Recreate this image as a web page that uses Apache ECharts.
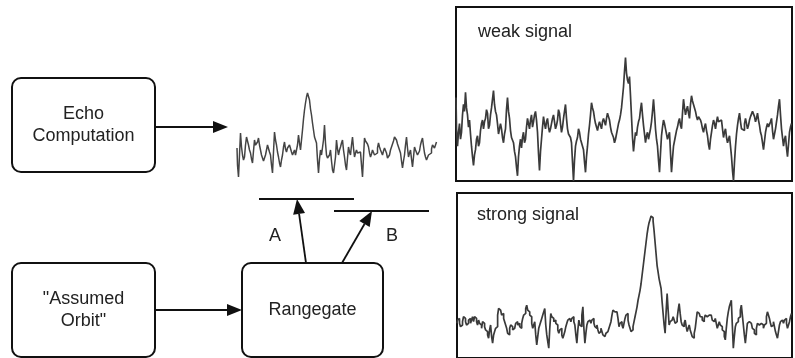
<!DOCTYPE html>
<html><head><meta charset="utf-8">
<script src="https://cdn.jsdelivr.net/npm/echarts@6/dist/echarts.min.js"></script>
<style>html,body{margin:0;padding:0;background:#fff}#c{width:795px;height:358px}</style>
</head><body><div id="c"></div>
<script>
// Echo waveform sketched next to the Echo Computation box
const echoValues = [
37,20, 8,30, 52,38, 30,25, 28,40, 48,44, 40,35, 32,26, 22,34, 45,40, 38,43, 47,40, 35,30, 28,24, 22,30, 35,40, 38,33, 30,20, 12,33, 53,45,
40,33, 28,22, 18,25, 30,38, 43,36, 33,37, 36,40, 38,33, 30,32, 35,30, 28,40, 50,42, 35,45, 55,66, 75,82, 88,92, 93,85, 76,70, 62,55, 48,45,
42,25, 12,26, 35,30, 28,45, 60,42, 30,27, 25,30, 35,24, 15,12, 10,28, 45,36, 30,35, 38,42, 45,35, 28,20, 15,27, 38,33, 30,40, 48,37, 28,32,
35,32, 30,33, 35,20, 8,28, 47,44, 45,41, 38,32, 28,31, 35,33, 30,30, 32,37, 42,38, 35,33, 30,34, 37,35, 32,27, 25,30, 35,38, 40,44, 48,46,
45,41, 38,35, 32,24, 17,24, 30,40, 48,37, 28,32, 35,26, 18,28, 38,35, 33,30, 28,34, 40,44, 47,39, 32,28, 25,27, 30,31, 32,36, 40,38, 37,40,
43];
// weak signal panel
const weakValues = [
48,30, 20,28, 33,24, 28,38, 44,40, 51,42, 38,31, 35,27, 20,14, 9,15, 18,24, 26,20, 22,29, 33,35, 30,34, 36,41, 39,30, 32,38, 42,47, 52,44,
40,38, 33,27, 28,33, 30,25, 22,27, 30,41, 48,40, 36,29, 25,26, 22,17, 14,8, 3,14, 20,24, 19,25, 28,22, 24,31, 36,33, 30,35, 38,31, 34,38,
40,35, 28,16, 6,17, 24,31, 37,33, 30,34, 36,31, 28,30, 33,36, 38,34, 30,32, 35,41, 39,33, 28,31, 36,40, 44,36, 30,27, 26,25, 22,11, 0,12,
20,23, 25,30, 28,24, 22,20, 18,11, 5,14, 20,27, 32,38, 45,42, 40,36, 33,31, 29,32, 34,33, 30,34, 36,34, 32,36, 39,37, 35,31, 28,27, 25,22,
24,27, 30,33, 35,38, 42,48, 54,63, 71,62, 58,56, 60,49, 37,25, 17,23, 28,26, 31,34, 36,41, 45,38, 32,27, 22,26, 28,24, 25,30, 34,40, 47,39,
30,24, 20,12, 5,16, 26,31, 35,33, 30,27, 24,25, 28,16, 5,13, 20,23, 26,29, 31,34, 36,32, 30,39, 47,42, 38,41, 43,39, 36,44, 49,46, 44,42,
40,37, 35,37, 38,35, 33,30, 28,31, 33,29, 26,21, 18,24, 28,32, 35,33, 30,34, 37,34, 33,35, 36,30, 25,28, 30,25, 22,24, 26,20, 14,6, 0,11,
20,27, 32,36, 39,34, 30,30, 29,33, 36,33, 30,32, 35,37, 38,40, 41,37, 34,36, 39,35, 32,28, 26,22, 18,23, 28,31, 33,31, 30,34, 36,29, 24,27,
30,34, 38,43, 47,38, 30,25, 20,24, 26,19, 14,21, 28,31, 33];
// strong signal panel
const strongValues = [
21,23, 24,21, 19,20, 22,25, 24,22, 20,21, 23,24, 21,23, 25,22, 25,24, 22,20, 23,21, 20,18, 22,21, 19,17, 16,14, 12,17, 20,13, 9,14, 16,18,
19,26, 30,29, 28,26, 27,24, 22,20, 18,15, 14,18, 20,19, 17,18, 19,21, 22,20, 21,19, 18,21, 24,26, 27,30, 32,29, 28,26, 25,21, 18,20, 22,14,
8,13, 18,20, 22,24, 26,28, 30,20, 14,10, 6,18, 27,25, 24,22, 23,21, 20,17, 15,17, 18,14, 12,14, 16,19, 21,23, 24,23, 22,24, 25,22, 20,14,
9,17, 23,20, 19,26, 31,18, 9,15, 20,22, 23,22, 21,23, 24,21, 19,18, 20,17, 15,16, 18,16, 14,13, 12,15, 16,17, 18,20, 22,26, 29,28, 27,28,
29,24, 19,21, 22,20, 18,21, 24,26, 27,23, 20,18, 16,17, 19,22, 25,28, 31,35, 38,41, 45,50, 55,60, 65,70, 75,79, 82,84, 86,85, 83,77, 70,63,
56,52, 48,45, 42,34, 27,20, 15,28, 39,29, 20,22, 23,24, 25,23, 21,22, 24,29, 33,27, 22,20, 19,21, 23,19, 16,18, 20,17, 15,13, 12,15, 18,23,
28,27, 26,25, 25,23, 22,24, 26,25, 24,26, 27,26, 25,23, 22,23, 24,21, 18,20, 22,20, 19,17, 16,13, 11,18, 24,28, 31,33, 35,20, 6,13, 19,21,
22,24, 25,29, 32,26, 20,14, 9,15, 21,22, 23,21, 20,18, 17,15, 14,18, 21,20, 19,21, 22,20, 18,20, 21,25, 28,26, 24,21, 19,20, 22,19, 16,14,
12,16, 20,22, 23,22, 21,23, 24,21, 18,20, 22,25, 27];
const panelTitles = ['weak signal', 'strong signal'];
const boxLabels = ['Echo\nComputation', '"Assumed\nOrbit"', 'Rangegate'];
const gateLabels = ['A', 'B'];

const idx = a => a.map((_, i) => i);
const FONT = 'Liberation Sans, Arial, sans-serif';
const INK = '#111';

function box(x, y, w, h, label) {
  return [
    {type:'rect', shape:{x, y, width:w, height:h, r:9}, style:{fill:'#fff', stroke:INK, lineWidth:2}, z:10},
    {type:'text', x:x + w/2, y:y + h/2, z:11,
     style:{text:label, fill:'#222', font:'18px ' + FONT, align:'center', verticalAlign:'middle', lineHeight:22}}
  ];
}
function arrow(x1, y1, x2, y2) {
  const dx = x2 - x1, dy = y2 - y1, L = Math.hypot(dx, dy);
  const ux = dx / L, uy = dy / L, hl = 15, hw = 6;
  const bx = x2 - ux * hl, by = y2 - uy * hl;
  return [
    {type:'line', shape:{x1, y1, x2:bx, y2:by}, style:{stroke:INK, lineWidth:1.8}, z:10},
    {type:'polygon', shape:{points:[[x2, y2], [bx - uy * hw, by + ux * hw], [bx + uy * hw, by - ux * hw]]}, style:{fill:INK}, z:10}
  ];
}
function hline(x1, x2, y) {
  return {type:'line', shape:{x1, y1:y, x2, y2:y}, style:{stroke:INK, lineWidth:2}, z:10};
}
function label(x, y, t, align) {
  return {type:'text', x, y, z:11, style:{text:t, fill:'#222', font:'18px ' + FONT, align:align || 'center', verticalAlign:'middle'}};
}

const graphic = [].concat(
  box(12, 78, 143, 94, boxLabels[0]),
  box(12, 263, 143, 94, boxLabels[1]),
  box(242, 263, 141, 94, boxLabels[2]),
  arrow(155, 127, 228, 127),
  arrow(155, 310, 242, 310),
  arrow(306, 263, 297, 199),
  arrow(342, 263, 372, 211),
  [hline(259, 354, 199), hline(334, 429, 211)],
  [label(275, 236, gateLabels[0]), label(392, 236, gateLabels[1])],
  [label(478, 32, panelTitles[0], 'left'), label(477, 215, panelTitles[1], 'left')]
);

const hidden = {axisLine:{show:false}, axisTick:{show:false}, axisLabel:{show:false}, splitLine:{show:false}};
const chart = echarts.init(document.getElementById('c'), null, {renderer:'canvas'});
chart.setOption({
  animation:false,
  backgroundColor:'#fff',
  grid:[
    {left:237, width:200, top:85, height:100, show:false},
    {left:456, right:3, top:7, height:174, show:true, borderColor:INK, borderWidth:2, backgroundColor:'transparent'},
    {left:457, right:3, top:193, height:170, show:true, borderColor:INK, borderWidth:2, backgroundColor:'transparent'}
  ],
  xAxis:[
    Object.assign({type:'category', gridIndex:0, data:idx(echoValues), boundaryGap:false}, hidden),
    Object.assign({type:'category', gridIndex:1, data:idx(weakValues), boundaryGap:false}, hidden),
    Object.assign({type:'category', gridIndex:2, data:idx(strongValues), boundaryGap:false}, hidden)
  ],
  yAxis:[
    Object.assign({type:'value', gridIndex:0, min:0, max:100}, hidden),
    Object.assign({type:'value', gridIndex:1, min:0, max:100}, hidden),
    Object.assign({type:'value', gridIndex:2, min:0, max:100}, hidden)
  ],
  series:[
    {type:'line', xAxisIndex:0, yAxisIndex:0, data:echoValues, step:'middle', showSymbol:false, lineStyle:{color:'#444', width:1.5}},
    {type:'line', xAxisIndex:1, yAxisIndex:1, data:weakValues, step:'middle', showSymbol:false, lineStyle:{color:'#3a3a3a', width:1.7}},
    {type:'line', xAxisIndex:2, yAxisIndex:2, data:strongValues, step:'middle', showSymbol:false, lineStyle:{color:'#3a3a3a', width:1.7}}
  ],
  graphic:graphic
});
</script></body></html>
